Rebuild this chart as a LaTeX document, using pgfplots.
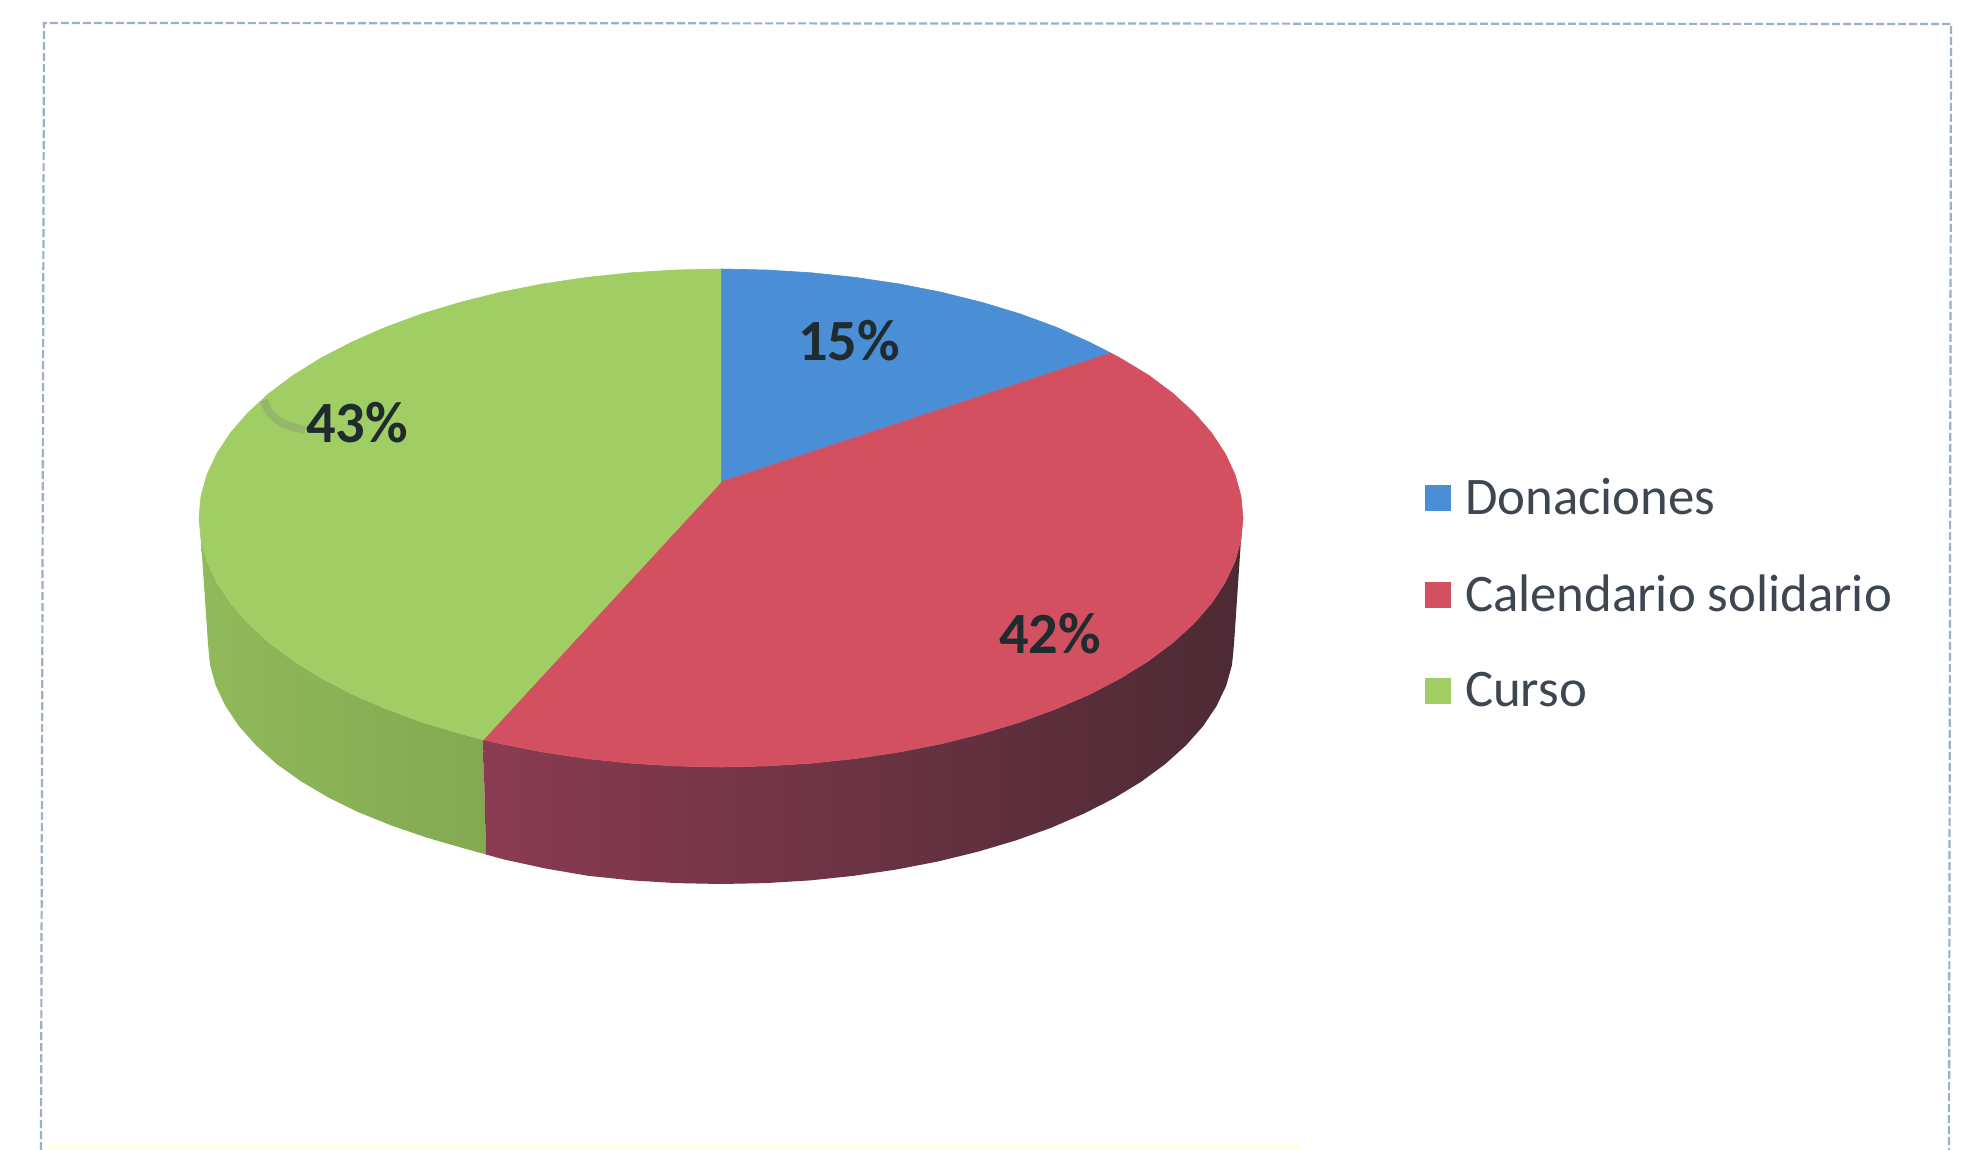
\documentclass[border=0pt]{standalone}
\usepackage{fontspec}
\setmainfont{Carlito}
\usepackage{pgfplots}
\pgfplotsset{compat=1.18}
\definecolor{cBlue}{HTML}{4A8FD6}
\definecolor{cRed}{HTML}{D2505F}
\definecolor{cGreen}{HTML}{A0CE64}
\definecolor{cFrame}{HTML}{9DAFC4}
\definecolor{cTxt}{HTML}{3E4652}
\definecolor{cLab}{HTML}{1F2B2E}
\definecolor{sideA}{HTML}{8A3B52}
\definecolor{sideB}{HTML}{5C2B3B}
\definecolor{sideC}{HTML}{4C2A34}
\pgfplotsset{swatch/.style={legend image code/.code={%
  \path[draw=none,fill=none] (0pt,0pt) -- (18pt,0pt);
  \fill[##1,draw=none] (0pt,-6.5pt) rectangle (13pt,6.5pt);}}}
\begin{document}
\begin{tikzpicture}
\begin{axis}[
  scale only axis, width=982pt, height=575pt,
  xmin=0, xmax=1964, ymin=0, ymax=1150, y dir=reverse,
  hide axis, clip=true,
  legend style={at={(axis cs:1425,474)}, anchor=north west, draw=none, fill=none,
    font=\fontsize{26.4pt}{28pt}\selectfont\color{cTxt},
    row sep=24.8pt, inner sep=0pt, outer sep=0pt},
  legend cell align=left,
]
% page background and scan edge
\addplot[fill=white, draw=none, forget plot] coordinates {(0,0)(1964,0)(1964,1150)(0,1150)};
\addplot[fill=yellow!10, draw=none, forget plot] coordinates {(48,1144)(1300,1144)(1300,1150)(48,1150)};
% frame
\addplot[cFrame, line width=1.1pt, dash pattern=on 4pt off 1.5pt, forget plot]
  coordinates {(41,1150)(44,23)(1951,24)(1949,1150)};
% green side
\addplot[draw=none, left color=cGreen!90!black, right color=cGreen!82!black, forget plot] coordinates {
(201,539.7)(206.9,561.2)(216.8,582.4)(230.5,603.2)(247.9,623.2)(268.9,642.5)(293.4,660.8)(321.1,678)(351.9,694.1)(385.5,708.7)(421.6,722)(460,733.6)(483.2,739.7)
(486,854.5)(464.5,848.5)(426.7,837.6)(391.2,825.4)(358.3,812.2)(328,797.3)(300.8,781.2)(276.7,764)(256.1,745.4)(238.9,726.1)(225.5,706.1)(215.8,685.7)(210,664.9)(208,644)};
% red side
\addplot[draw=none, left color=sideA, middle color=sideB, right color=sideC, forget plot] coordinates {
(483.2,739.7)(500.4,743.7)(542.5,752)(585.9,758.5)(630.4,763.2)(675.5,766)(721,767)(766.5,766)(811.6,763.2)(856.1,758.5)(899.5,752)(941.6,743.7)(982,733.6)(1020.4,722)(1056.5,708.7)(1090.1,694.1)(1120.9,678)(1148.6,660.8)(1173.1,642.5)(1194.1,623.2)(1211.5,603.2)(1225.2,582.4)(1235.1,561.2)(1241,539.7)
(1234,644)(1232,664.9)(1226.2,685.7)(1216.5,706.1)(1203.1,726.1)(1185.9,745.4)(1165.3,764)(1141.2,781.7)(1114,798.3)(1083.7,813.7)(1050.8,827.9)(1015.3,840.6)(977.5,851.8)(937.8,861.5)(896.4,869.5)(853.8,875.8)(810.1,880.4)(765.7,883.1)(721,884)(676.3,883.1)(631.9,880.4)(588.2,875.8)(545.6,868.5)(504.2,859.5)(486,854.5)};
% top: Donaciones
\addplot[fill=cBlue, draw=cBlue, line width=0.3pt, swatch] coordinates {
(721,482)(721,269)(766.5,270)(811.6,272.8)(856.1,277.5)(899.5,284)(941.6,292.3)(982,302.4)(1020.4,314)(1056.5,327.3)(1090.1,342.5)(1110.7,353)};
\addlegendentry{Donaciones}
% top: Calendario solidario
\addplot[fill=cRed, draw=cRed, line width=0.3pt, swatch] coordinates {
(721,482)(1110.7,353)(1120.9,358.5)(1148.6,375.2)(1173.1,393.5)(1194.1,412.8)(1211.5,432.8)(1225.2,453.6)(1235.1,474.8)(1241,496.3)(1243,518)(1241,539.7)(1235.1,561.2)(1225.2,582.4)(1211.5,603.2)(1194.1,623.2)(1173.1,642.5)(1148.6,660.8)(1120.9,678)(1090.1,694.1)(1056.5,708.7)(1020.4,722)(982,733.6)(941.6,743.7)(899.5,752)(856.1,758.5)(811.6,763.2)(766.5,766)(721,767)(675.5,766)(630.4,763.2)(585.9,758.5)(542.5,752)(500.4,743.7)(483.2,739.7)};
\addlegendentry{Calendario solidario}
% top: Curso
\addplot[fill=cGreen, draw=cGreen, line width=0.3pt, swatch] coordinates {
(721,482)(483.2,739.7)(460,733.6)(421.6,722)(385.5,708.7)(351.9,694.1)(321.1,678)(293.4,660.8)(268.9,642.5)(247.9,623.2)(230.5,603.2)(216.8,582.4)(206.9,561.2)(201,539.7)(199,518)(201,496.3)(206.9,474.8)(216.8,453.6)(230.5,432.8)(247.9,412.8)(268.9,393.5)(293.4,375.2)(321.1,358)(351.9,342)(385.5,327.3)(421.6,314)(460,302.4)(500.4,292.3)(542.5,284)(585.9,277.5)(630.4,272.8)(675.5,270)(721,269)};
\addlegendentry{Curso}
% smudge beside the 43% label
\addplot[gray, opacity=0.3, line width=4pt, smooth, forget plot]
  coordinates {(264,400)(270,413)(284,424)(305,430)};
\node[font=\fontsize{29.2pt}{30pt}\selectfont\bfseries, text=cLab] at (axis cs:849,341) {15\%};
\node[font=\fontsize{29.2pt}{30pt}\selectfont\bfseries, text=cLab] at (axis cs:357,423) {43\%};
\node[font=\fontsize{29.2pt}{30pt}\selectfont\bfseries, text=cLab] at (axis cs:1050,634) {42\%};
\end{axis}
\end{tikzpicture}
\end{document}
